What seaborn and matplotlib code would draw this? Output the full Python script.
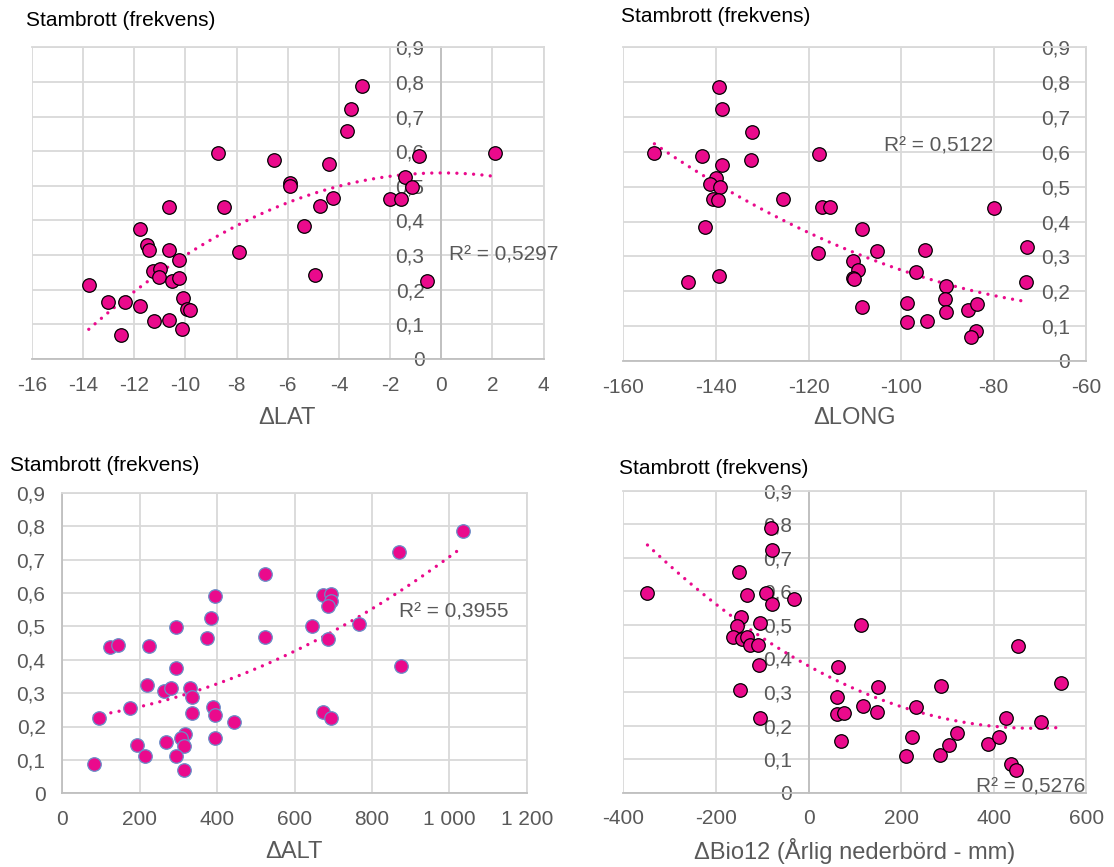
import numpy as np
import matplotlib
matplotlib.use("Agg")
import matplotlib.pyplot as plt
import seaborn as sns

# ---------------- data ----------------
lat_x = [-3.11, -3.54, -3.68, -8.72, -0.85, 2.10, -6.53, -4.39, -5.93, -5.92, -1.40, -1.14, -4.22, -4.75,
         -2.01, -1.56, -10.63, -8.50, -11.78, -5.36, -11.51, -11.42, -10.64, -7.89, -10.26, -11.28, -11.00,
         -11.04, -10.54, -10.26, -4.94, -0.54, -13.78, -13.04, -12.36, -11.78, -10.11, -9.93, -9.82, -11.24,
         -10.65, -10.15, -12.51]
lat_y = [0.788, 0.723, 0.658, 0.594, 0.587, 0.596, 0.575, 0.562, 0.509, 0.500, 0.525, 0.497, 0.464, 0.443,
         0.462, 0.462, 0.439, 0.439, 0.376, 0.383, 0.328, 0.315, 0.315, 0.308, 0.286, 0.254, 0.259, 0.238,
         0.226, 0.235, 0.242, 0.226, 0.213, 0.166, 0.164, 0.154, 0.177, 0.144, 0.142, 0.111, 0.113, 0.088, 0.069]

long_x = [-139.4, -138.7, -132.3, -153.3, -143.0, -117.7, -138.7, -132.5, -140.1, -141.2, -139.2, -140.6,
          -139.6, -125.5, -117.2, -115.4, -80.0, -142.3, -108.4, -117.9, -105.3, -94.8, -110.3, -109.4,
          -110.4, -110.1, -96.7, -146.0, -139.4, -72.9, -73.1, -90.4, -90.6, -90.4, -98.8, -98.7, -94.5,
          -108.4, -85.5, -83.6, -83.8, -85.0]
long_y = [0.787, 0.724, 0.658, 0.596, 0.589, 0.595, 0.563, 0.577, 0.526, 0.509, 0.498, 0.466, 0.462, 0.465,
          0.441, 0.443, 0.438, 0.384, 0.378, 0.309, 0.315, 0.319, 0.288, 0.261, 0.238, 0.234, 0.255, 0.226,
          0.243, 0.327, 0.226, 0.214, 0.178, 0.141, 0.166, 0.112, 0.114, 0.155, 0.145, 0.164, 0.0875, 0.070]

alt_x = [1035, 871, 524, 394, 384, 374, 524, 294, 644, 766, 674, 694, 693, 686, 686, 124, 144, 225, 874, 294,
         219, 262, 280, 330, 335, 175, 94, 335, 390, 394, 444, 674, 694, 269, 318, 307, 314, 394, 194, 214,
         294, 83, 314]
alt_y = [0.786, 0.722, 0.657, 0.590, 0.524, 0.466, 0.467, 0.497, 0.501, 0.508, 0.593, 0.596, 0.576, 0.562,
         0.462, 0.439, 0.444, 0.440, 0.381, 0.375, 0.325, 0.305, 0.316, 0.315, 0.287, 0.254, 0.226, 0.239,
         0.259, 0.233, 0.213, 0.243, 0.226, 0.155, 0.177, 0.167, 0.141, 0.165, 0.145, 0.113, 0.111, 0.088, 0.070]

bio_x = [-348, -81, -78, -150, -134, -93, -80, -32, -147, -154, -104, 114, -164, -144, -134, -127, -109, 452,
         -108, -148, -104, 63, 61, 61, 76, 69, 117, 150, 148, 233, 223, 211, 286, 284, 304, 321, 387, 412,
         427, 438, 448, 502, 545]
bio_y = [0.596, 0.790, 0.722, 0.657, 0.590, 0.594, 0.563, 0.577, 0.523, 0.498, 0.507, 0.500, 0.463, 0.457,
         0.465, 0.439, 0.441, 0.438, 0.382, 0.306, 0.224, 0.375, 0.286, 0.234, 0.238, 0.155, 0.258, 0.314,
         0.241, 0.254, 0.166, 0.110, 0.318, 0.112, 0.141, 0.177, 0.144, 0.165, 0.224, 0.085, 0.068, 0.212, 0.326]

y_ticks = [0, 0.1, 0.2, 0.3, 0.4, 0.5, 0.6, 0.7, 0.8, 0.9]
y_ticklabels = ["0", "0,1", "0,2", "0,3", "0,4", "0,5", "0,6", "0,7", "0,8", "0,9"]

lat_ticks = [-16, -14, -12, -10, -8, -6, -4, -2, 0, 2, 4]
lat_labels = ["-16", "-14", "-12", "-10", "-8", "-6", "-4", "-2", "0", "2", "4"]
long_ticks = [-160, -140, -120, -100, -80, -60]
long_labels = ["-160", "-140", "-120", "-100", "-80", "-60"]
alt_ticks = [0, 200, 400, 600, 800, 1000, 1200]
alt_labels = ["0", "200", "400", "600", "800", "1 000", "1 200"]
bio_ticks = [-400, -200, 0, 200, 400, 600]
bio_labels = ["-400", "-200", "0", "200", "400", "600"]

title_text = "Stambrott (frekvens)"
r2_texts = ["R² = 0,5297", "R² = 0,5122", "R² = 0,3955", "R² = 0,5276"]
x_titles = ["ΔLAT", "ΔLONG", "ΔALT", "ΔBio12 (Årlig nederbörd - mm)"]

# ---------------- style ----------------
sns.set_theme(style="white")
plt.rcParams["font.family"] = ["Liberation Sans", "DejaVu Sans"]

PINK = "#EA0A8C"
GRID = "#D9D9D9"
AXIS = "#BFBFBF"
TXT = "#595959"

W, H = 1114, 867
fig = plt.figure(figsize=(W / 100, H / 100), dpi=100)


def rect(l, r, t, b):
    return [l / W, 1 - b / H, (r - l) / W, (b - t) / H]


def panel(r, x, y, xlim, xticks, xlabels, cross, edge, r2, r2pos):
    ax = fig.add_axes(r)
    ax.set_axisbelow(True)
    sns.regplot(x=np.array(x), y=np.array(y), ax=ax, order=2, ci=None, scatter=False, truncate=True,
                line_kws=dict(color=PINK, lw=2.4, linestyle=(0, (0.01, 2.5)),
                              dash_capstyle="round", zorder=3))
    sns.scatterplot(x=x, y=y, ax=ax, s=95, color=PINK, edgecolor=edge, linewidth=0.9, zorder=4,
                    legend=False)
    ax.set_xlim(*xlim)
    ax.set_ylim(0, 0.9)
    ax.set_xticks(xticks)
    ax.set_xticklabels(xlabels)
    ax.set_yticks(y_ticks)
    ax.set_yticklabels(y_ticklabels)
    ax.set_xlabel("")
    ax.set_ylabel("")
    ax.grid(True, color=GRID, lw=1.3)
    ax.tick_params(axis="both", length=0, labelsize=15, labelcolor=TXT, pad=12)
    for s in ["top", "right"]:
        ax.spines[s].set_visible(True)
        ax.spines[s].set_color(GRID)
        ax.spines[s].set_linewidth(1.3)
    ax.spines["bottom"].set_color(AXIS)
    ax.spines["bottom"].set_linewidth(1.3)
    ax.spines["left"].set_position(("data", cross))
    ax.spines["left"].set_color(AXIS)
    ax.spines["left"].set_linewidth(1.3)
    ax.text(r2pos[0], r2pos[1], r2, fontsize=15, color=TXT, ha="left", va="center", clip_on=False,
            zorder=5)
    return ax


panel(rect(32, 543.5, 47.3, 359), lat_x, lat_y, (-16, 4), lat_ticks, lat_labels, 0, "black",
      r2_texts[0], (0.3, 0.30))
panel(rect(623.4, 1086.3, 47.3, 361), long_x, long_y, (-160, -60), long_ticks, long_labels, -60, "black",
      r2_texts[1], (-103.7, 0.617))
panel(rect(62.2, 526.8, 492.7, 793.3), alt_x, alt_y, (0, 1200), alt_ticks, alt_labels, 0, "#6A8EC8",
      r2_texts[2], (870, 0.542))
panel(rect(623.4, 1086.3, 490.7, 792.7), bio_x, bio_y, (-400, 600), bio_ticks, bio_labels, 0, "black",
      r2_texts[3], (361, 0.016))

# titles
for (px, py) in [(26, 20), (621, 16), (10, 466), (619, 468)]:
    fig.text(px / W, 1 - py / H, title_text, fontsize=15, color="black", ha="left", va="center")

# x-axis titles
for txt, (px, py) in zip(x_titles, [(287, 418), (855, 418), (294, 852), (855, 851)]):
    fig.text(px / W, 1 - py / H, txt, fontsize=17, color=TXT, ha="center", va="center")

fig.savefig("out.png", dpi=100)
